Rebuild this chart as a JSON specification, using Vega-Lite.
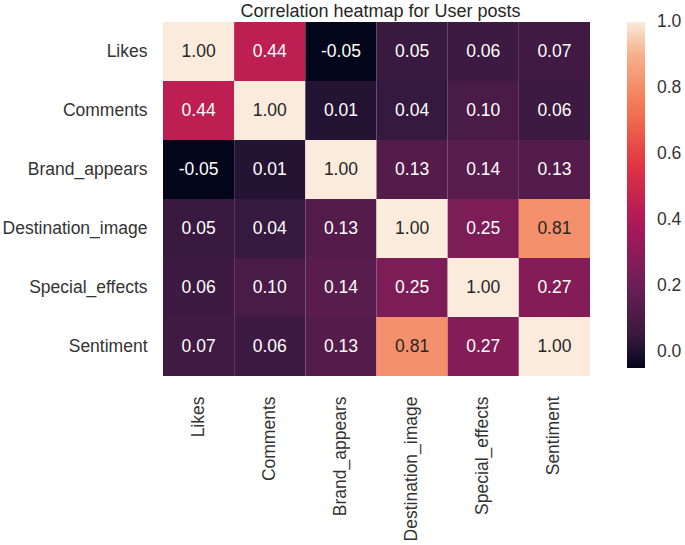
{
  "$schema": "https://vega.github.io/schema/vega-lite/v6.json",
  "autosize": {"type": "none"},
  "padding": {"left": 163, "top": 22, "right": 95, "bottom": 169},
  "width": 427,
  "height": 354,
  "background": "white",
  "title": {
    "text": "Correlation heatmap for User posts",
    "font": "Liberation Sans",
    "fontSize": 18,
    "fontWeight": "normal",
    "color": "#262626",
    "anchor": "middle",
    "frame": "group",
    "offset": 1,
    "dx": 4
  },
  "config": {
    "view": {"stroke": null},
    "font": "Liberation Sans"
  },
  "data": {
    "values": [
      {"row": "Likes", "col": "Likes", "v": 1.00},
      {"row": "Likes", "col": "Comments", "v": 0.44},
      {"row": "Likes", "col": "Brand_appears", "v": -0.05},
      {"row": "Likes", "col": "Destination_image", "v": 0.05},
      {"row": "Likes", "col": "Special_effects", "v": 0.06},
      {"row": "Likes", "col": "Sentiment", "v": 0.07},
      {"row": "Comments", "col": "Likes", "v": 0.44},
      {"row": "Comments", "col": "Comments", "v": 1.00},
      {"row": "Comments", "col": "Brand_appears", "v": 0.01},
      {"row": "Comments", "col": "Destination_image", "v": 0.04},
      {"row": "Comments", "col": "Special_effects", "v": 0.10},
      {"row": "Comments", "col": "Sentiment", "v": 0.06},
      {"row": "Brand_appears", "col": "Likes", "v": -0.05},
      {"row": "Brand_appears", "col": "Comments", "v": 0.01},
      {"row": "Brand_appears", "col": "Brand_appears", "v": 1.00},
      {"row": "Brand_appears", "col": "Destination_image", "v": 0.13},
      {"row": "Brand_appears", "col": "Special_effects", "v": 0.14},
      {"row": "Brand_appears", "col": "Sentiment", "v": 0.13},
      {"row": "Destination_image", "col": "Likes", "v": 0.05},
      {"row": "Destination_image", "col": "Comments", "v": 0.04},
      {"row": "Destination_image", "col": "Brand_appears", "v": 0.13},
      {"row": "Destination_image", "col": "Destination_image", "v": 1.00},
      {"row": "Destination_image", "col": "Special_effects", "v": 0.25},
      {"row": "Destination_image", "col": "Sentiment", "v": 0.81},
      {"row": "Special_effects", "col": "Likes", "v": 0.06},
      {"row": "Special_effects", "col": "Comments", "v": 0.10},
      {"row": "Special_effects", "col": "Brand_appears", "v": 0.14},
      {"row": "Special_effects", "col": "Destination_image", "v": 0.25},
      {"row": "Special_effects", "col": "Special_effects", "v": 1.00},
      {"row": "Special_effects", "col": "Sentiment", "v": 0.27},
      {"row": "Sentiment", "col": "Likes", "v": 0.07},
      {"row": "Sentiment", "col": "Comments", "v": 0.06},
      {"row": "Sentiment", "col": "Brand_appears", "v": 0.13},
      {"row": "Sentiment", "col": "Destination_image", "v": 0.81},
      {"row": "Sentiment", "col": "Special_effects", "v": 0.27},
      {"row": "Sentiment", "col": "Sentiment", "v": 1.00}
    ]
  },
  "transform": [
    {"calculate": "replace(format(datum.v, '.2f'), '\u2212', '-')", "as": "label"}
  ],
  "encoding": {
    "x": {
      "field": "col", "type": "nominal",
      "sort": ["Likes", "Comments", "Brand_appears", "Destination_image", "Special_effects", "Sentiment"],
      "scale": {"paddingInner": 0, "paddingOuter": 0},
      "axis": {
        "title": null, "ticks": false, "domain": false, "labelAngle": -90,
        "labelAlign": "right", "labelBaseline": "middle", "labelPadding": 20,
        "labelFontSize": 17.5, "labelColor": "#333333", "labelFont": "Liberation Sans"
      }
    },
    "y": {
      "field": "row", "type": "nominal",
      "sort": ["Likes", "Comments", "Brand_appears", "Destination_image", "Special_effects", "Sentiment"],
      "scale": {"paddingInner": 0, "paddingOuter": 0},
      "axis": {
        "title": null, "ticks": false, "domain": false, "labelPadding": 16,
        "labelFontSize": 17.5, "labelColor": "#333333", "labelFont": "Liberation Sans"
      }
    }
  },
  "layer": [
    {
      "mark": {"type": "rect", "strokeWidth": 0},
      "encoding": {
        "color": {
          "field": "v", "type": "quantitative",
          "scale": {
            "domain": [-0.05, 0.0375, 0.2125, 0.3875, 0.5625, 0.7375, 0.9125, 1.0],
            "range": ["#03051a", "#35193e", "#701f57", "#ad1759", "#e13342", "#f37651", "#f6b48f", "#faebdd"],
            "interpolate": "rgb"
          },
          "legend": {
            "title": null,
            "orient": "none",
            "legendX": 464,
            "legendY": 0,
            "direction": "vertical",
            "gradientLength": 346,
            "gradientThickness": 18,
            "gradientStrokeWidth": 0,
            "values": [0, 0.2, 0.4, 0.6, 0.8, 1.0],
            "format": ".1f",
            "labelFontSize": 17.5,
            "labelColor": "#333333",
            "labelFont": "Liberation Sans",
            "labelOffset": 12,
            "labelOverlap": false,
            "labelBaseline": "middle",
            "encode": {
              "labels": {"update": {"baseline": {"value": "middle"}}}
            }
          }
        }
      }
    },
    {
      "mark": {"type": "text", "font": "Liberation Sans", "fontSize": 17.5},
      "encoding": {
        "text": {"field": "label", "type": "nominal"},
        "color": {
          "condition": {"test": "datum.v > 0.6", "value": "#262626"},
          "value": "#ffffff"
        }
      }
    }
  ]
}
